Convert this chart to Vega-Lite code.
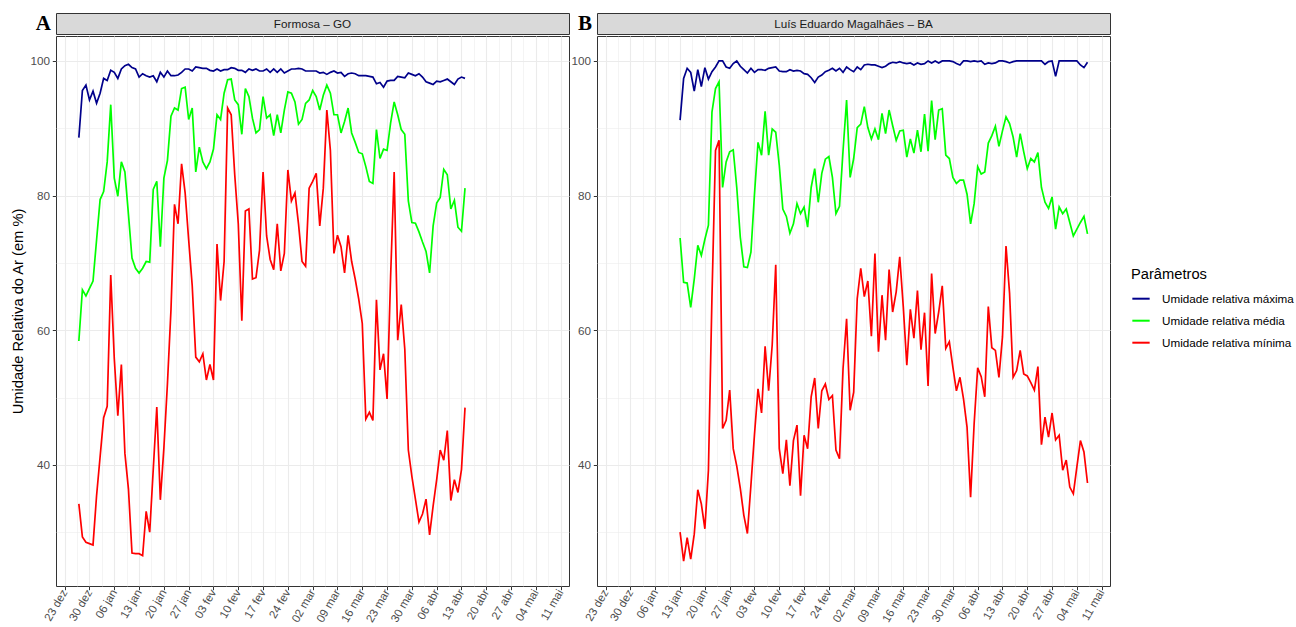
{
  "$schema": "https://vega.github.io/schema/vega-lite/v6.json",
  "padding": {"left": 10, "top": 12, "right": 5, "bottom": 0},
  "background": "white",
  "config": {
    "font": "Liberation Sans",
    "view": {"stroke": "#333333", "strokeWidth": 1}
  },
  "datasets": {
    "A": [
      {"t":"2019-12-27","mx":88.6,"md":58.4,"mn":34.2},
      {"t":"2019-12-28","mx":95.6,"md":66.0,"mn":29.3},
      {"t":"2019-12-29","mx":96.4,"md":65.1,"mn":28.5},
      {"t":"2019-12-30","mx":94.2,"md":66.2,"mn":28.3},
      {"t":"2019-12-31","mx":95.5,"md":67.3,"mn":28.1},
      {"t":"2020-01-01","mx":93.7,"md":73.4,"mn":35.4},
      {"t":"2020-01-02","mx":95.2,"md":79.4,"mn":41.2},
      {"t":"2020-01-03","mx":97.4,"md":80.6,"mn":47.0},
      {"t":"2020-01-04","mx":97.1,"md":85.0,"mn":48.7},
      {"t":"2020-01-05","mx":98.6,"md":93.5,"mn":68.2},
      {"t":"2020-01-06","mx":98.3,"md":82.6,"mn":55.8},
      {"t":"2020-01-07","mx":97.4,"md":79.9,"mn":47.3},
      {"t":"2020-01-08","mx":98.8,"md":85.0,"mn":54.9},
      {"t":"2020-01-09","mx":99.3,"md":83.5,"mn":41.7},
      {"t":"2020-01-10","mx":99.5,"md":77.2,"mn":36.4},
      {"t":"2020-01-11","mx":99.0,"md":70.7,"mn":26.9},
      {"t":"2020-01-12","mx":98.8,"md":69.2,"mn":26.8},
      {"t":"2020-01-13","mx":97.6,"md":68.5,"mn":26.8},
      {"t":"2020-01-14","mx":98.1,"md":69.2,"mn":26.5},
      {"t":"2020-01-15","mx":97.8,"md":70.2,"mn":33.1},
      {"t":"2020-01-16","mx":97.6,"md":70.1,"mn":30.0},
      {"t":"2020-01-17","mx":97.8,"md":80.9,"mn":39.3},
      {"t":"2020-01-18","mx":96.9,"md":82.1,"mn":48.6},
      {"t":"2020-01-19","mx":98.3,"md":72.4,"mn":34.8},
      {"t":"2020-01-20","mx":97.6,"md":82.6,"mn":42.5},
      {"t":"2020-01-21","mx":98.5,"md":85.2,"mn":52.0},
      {"t":"2020-01-22","mx":97.8,"md":91.8,"mn":63.0},
      {"t":"2020-01-23","mx":97.8,"md":93.0,"mn":78.7},
      {"t":"2020-01-24","mx":97.9,"md":92.7,"mn":75.8},
      {"t":"2020-01-25","mx":98.3,"md":95.9,"mn":84.7},
      {"t":"2020-01-26","mx":98.8,"md":96.1,"mn":80.4},
      {"t":"2020-01-27","mx":98.8,"md":91.3,"mn":73.4},
      {"t":"2020-01-28","mx":98.5,"md":93.0,"mn":66.6},
      {"t":"2020-01-29","mx":99.1,"md":83.5,"mn":56.0},
      {"t":"2020-01-30","mx":99.0,"md":87.2,"mn":55.3},
      {"t":"2020-01-31","mx":98.9,"md":85.0,"mn":56.5},
      {"t":"2020-02-01","mx":98.9,"md":84.0,"mn":52.6},
      {"t":"2020-02-02","mx":98.6,"md":85.0,"mn":54.9},
      {"t":"2020-02-03","mx":98.5,"md":86.9,"mn":52.6},
      {"t":"2020-02-04","mx":98.8,"md":92.0,"mn":72.8},
      {"t":"2020-02-05","mx":98.5,"md":91.3,"mn":64.4},
      {"t":"2020-02-06","mx":98.7,"md":95.2,"mn":70.2},
      {"t":"2020-02-07","mx":98.7,"md":97.2,"mn":93.0},
      {"t":"2020-02-08","mx":99.0,"md":97.3,"mn":92.0},
      {"t":"2020-02-09","mx":98.9,"md":94.2,"mn":83.1},
      {"t":"2020-02-10","mx":98.6,"md":93.5,"mn":75.8},
      {"t":"2020-02-11","mx":98.6,"md":89.1,"mn":61.4},
      {"t":"2020-02-12","mx":98.3,"md":95.9,"mn":77.7},
      {"t":"2020-02-13","mx":98.8,"md":94.7,"mn":78.0},
      {"t":"2020-02-14","mx":98.6,"md":91.5,"mn":67.6},
      {"t":"2020-02-15","mx":98.8,"md":89.3,"mn":67.8},
      {"t":"2020-02-16","mx":98.5,"md":89.8,"mn":71.9},
      {"t":"2020-02-17","mx":98.5,"md":94.7,"mn":83.5},
      {"t":"2020-02-18","mx":98.8,"md":91.5,"mn":74.0},
      {"t":"2020-02-19","mx":98.3,"md":92.0,"mn":70.5},
      {"t":"2020-02-20","mx":98.8,"md":88.9,"mn":69.0},
      {"t":"2020-02-21","mx":98.3,"md":92.0,"mn":75.8},
      {"t":"2020-02-22","mx":98.8,"md":89.3,"mn":68.8},
      {"t":"2020-02-23","mx":98.2,"md":92.7,"mn":71.4},
      {"t":"2020-02-24","mx":98.5,"md":95.4,"mn":83.8},
      {"t":"2020-02-25","mx":98.8,"md":95.2,"mn":79.2},
      {"t":"2020-02-26","mx":98.8,"md":93.9,"mn":80.4},
      {"t":"2020-02-27","mx":98.9,"md":90.6,"mn":75.8},
      {"t":"2020-02-28","mx":98.8,"md":91.3,"mn":70.2},
      {"t":"2020-02-29","mx":98.5,"md":93.7,"mn":69.5},
      {"t":"2020-03-01","mx":98.5,"md":94.2,"mn":81.1},
      {"t":"2020-03-02","mx":98.5,"md":95.6,"mn":82.1},
      {"t":"2020-03-03","mx":98.5,"md":94.7,"mn":83.3},
      {"t":"2020-03-04","mx":98.2,"md":92.7,"mn":75.5},
      {"t":"2020-03-05","mx":98.3,"md":94.9,"mn":81.1},
      {"t":"2020-03-06","mx":98.0,"md":96.4,"mn":92.7},
      {"t":"2020-03-07","mx":98.3,"md":95.2,"mn":86.7},
      {"t":"2020-03-08","mx":98.5,"md":92.0,"mn":71.4},
      {"t":"2020-03-09","mx":98.2,"md":92.0,"mn":74.1},
      {"t":"2020-03-10","mx":98.3,"md":89.3,"mn":72.4},
      {"t":"2020-03-11","mx":97.7,"md":91.0,"mn":68.5},
      {"t":"2020-03-12","mx":98.1,"md":93.0,"mn":74.1},
      {"t":"2020-03-13","mx":98.2,"md":89.3,"mn":70.2},
      {"t":"2020-03-14","mx":98.1,"md":87.9,"mn":67.6},
      {"t":"2020-03-15","mx":97.8,"md":86.4,"mn":64.6},
      {"t":"2020-03-16","mx":97.8,"md":86.2,"mn":61.0},
      {"t":"2020-03-17","mx":97.8,"md":84.3,"mn":46.8},
      {"t":"2020-03-18","mx":97.7,"md":82.1,"mn":47.8},
      {"t":"2020-03-19","mx":97.6,"md":81.8,"mn":46.6},
      {"t":"2020-03-20","mx":96.6,"md":89.8,"mn":64.5},
      {"t":"2020-03-21","mx":96.8,"md":85.5,"mn":54.1},
      {"t":"2020-03-22","mx":96.1,"md":86.9,"mn":56.5},
      {"t":"2020-03-23","mx":97.0,"md":86.7,"mn":49.8},
      {"t":"2020-03-24","mx":97.1,"md":90.8,"mn":68.0},
      {"t":"2020-03-25","mx":97.1,"md":93.9,"mn":83.5},
      {"t":"2020-03-26","mx":97.7,"md":92.0,"mn":58.5},
      {"t":"2020-03-27","mx":97.6,"md":89.8,"mn":63.8},
      {"t":"2020-03-28","mx":97.5,"md":89.1,"mn":57.2},
      {"t":"2020-03-29","mx":98.2,"md":79.2,"mn":42.2},
      {"t":"2020-03-30","mx":98.0,"md":76.0,"mn":38.3},
      {"t":"2020-03-31","mx":97.8,"md":75.9,"mn":34.9},
      {"t":"2020-04-01","mx":98.1,"md":74.6,"mn":31.5},
      {"t":"2020-04-02","mx":97.6,"md":73.1,"mn":32.7},
      {"t":"2020-04-03","mx":96.9,"md":71.7,"mn":34.9},
      {"t":"2020-04-04","mx":96.7,"md":68.5,"mn":29.6},
      {"t":"2020-04-05","mx":96.5,"md":75.5,"mn":33.9},
      {"t":"2020-04-06","mx":97.0,"md":78.9,"mn":37.8},
      {"t":"2020-04-07","mx":96.9,"md":79.7,"mn":42.2},
      {"t":"2020-04-08","mx":97.1,"md":83.9,"mn":40.7},
      {"t":"2020-04-09","mx":97.3,"md":83.1,"mn":45.1},
      {"t":"2020-04-10","mx":96.9,"md":78.0,"mn":34.7},
      {"t":"2020-04-11","mx":96.5,"md":79.3,"mn":37.8},
      {"t":"2020-04-12","mx":97.3,"md":75.3,"mn":35.9},
      {"t":"2020-04-13","mx":97.6,"md":74.7,"mn":39.3},
      {"t":"2020-04-14","mx":97.4,"md":81.1,"mn":48.5}
    ],
    "B": [
      {"t":"2020-01-13","mx":91.2,"md":73.7,"mn":30.0},
      {"t":"2020-01-14","mx":97.4,"md":67.1,"mn":25.7},
      {"t":"2020-01-15","mx":98.9,"md":67.0,"mn":29.2},
      {"t":"2020-01-16","mx":98.3,"md":63.4,"mn":26.0},
      {"t":"2020-01-17","mx":95.5,"md":67.6,"mn":29.7},
      {"t":"2020-01-18","mx":98.7,"md":72.6,"mn":36.3},
      {"t":"2020-01-19","mx":96.2,"md":71.1,"mn":34.2},
      {"t":"2020-01-20","mx":99.0,"md":73.5,"mn":30.5},
      {"t":"2020-01-21","mx":97.3,"md":75.6,"mn":39.2},
      {"t":"2020-01-22","mx":98.4,"md":92.4,"mn":65.0},
      {"t":"2020-01-23","mx":99.1,"md":95.9,"mn":86.7},
      {"t":"2020-01-24","mx":100,"md":96.9,"mn":88.2},
      {"t":"2020-01-25","mx":100,"md":81.2,"mn":45.4},
      {"t":"2020-01-26","mx":99.1,"md":85.0,"mn":46.6},
      {"t":"2020-01-27","mx":98.9,"md":86.5,"mn":51.1},
      {"t":"2020-01-28","mx":99.6,"md":86.8,"mn":42.4},
      {"t":"2020-01-29","mx":100,"md":81.2,"mn":39.8},
      {"t":"2020-01-30","mx":99.2,"md":73.8,"mn":36.5},
      {"t":"2020-01-31","mx":98.7,"md":69.4,"mn":32.5},
      {"t":"2020-02-01","mx":98.2,"md":69.3,"mn":29.8},
      {"t":"2020-02-02","mx":98.9,"md":71.6,"mn":37.0},
      {"t":"2020-02-03","mx":98.3,"md":80.2,"mn":44.5},
      {"t":"2020-02-04","mx":98.7,"md":87.9,"mn":51.3},
      {"t":"2020-02-05","mx":98.7,"md":86.0,"mn":47.7},
      {"t":"2020-02-06","mx":98.6,"md":92.5,"mn":57.6},
      {"t":"2020-02-07","mx":98.9,"md":86.0,"mn":51.0},
      {"t":"2020-02-08","mx":99.0,"md":89.9,"mn":57.8},
      {"t":"2020-02-09","mx":99.1,"md":89.4,"mn":69.7},
      {"t":"2020-02-10","mx":98.5,"md":84.5,"mn":42.4},
      {"t":"2020-02-11","mx":98.4,"md":78.0,"mn":38.7},
      {"t":"2020-02-12","mx":98.4,"md":76.9,"mn":43.7},
      {"t":"2020-02-13","mx":98.7,"md":74.4,"mn":36.9},
      {"t":"2020-02-14","mx":98.5,"md":75.8,"mn":43.6},
      {"t":"2020-02-15","mx":98.6,"md":78.8,"mn":45.9},
      {"t":"2020-02-16","mx":98.5,"md":77.3,"mn":35.4},
      {"t":"2020-02-17","mx":98.1,"md":78.3,"mn":44.4},
      {"t":"2020-02-18","mx":98.0,"md":75.3,"mn":42.4},
      {"t":"2020-02-19","mx":97.5,"md":81.2,"mn":50.1},
      {"t":"2020-02-20","mx":96.8,"md":84.0,"mn":52.9},
      {"t":"2020-02-21","mx":97.6,"md":79.0,"mn":45.4},
      {"t":"2020-02-22","mx":97.9,"md":83.3,"mn":51.0},
      {"t":"2020-02-23","mx":98.4,"md":85.4,"mn":52.0},
      {"t":"2020-02-24","mx":98.6,"md":85.8,"mn":49.7},
      {"t":"2020-02-25","mx":98.9,"md":82.7,"mn":50.3},
      {"t":"2020-02-26","mx":98.5,"md":77.3,"mn":42.2},
      {"t":"2020-02-27","mx":98.9,"md":78.4,"mn":40.9},
      {"t":"2020-02-28","mx":98.3,"md":86.7,"mn":54.3},
      {"t":"2020-02-29","mx":99.1,"md":94.2,"mn":61.7},
      {"t":"2020-03-01","mx":98.7,"md":82.7,"mn":48.1},
      {"t":"2020-03-02","mx":98.4,"md":85.5,"mn":50.8},
      {"t":"2020-03-03","mx":99.1,"md":90.1,"mn":64.7},
      {"t":"2020-03-04","mx":98.7,"md":90.6,"mn":69.2},
      {"t":"2020-03-05","mx":99.4,"md":93.2,"mn":65.0},
      {"t":"2020-03-06","mx":99.5,"md":90.1,"mn":67.3},
      {"t":"2020-03-07","mx":99.4,"md":88.4,"mn":59.1},
      {"t":"2020-03-08","mx":99.4,"md":89.9,"mn":71.4},
      {"t":"2020-03-09","mx":99.2,"md":88.3,"mn":56.8},
      {"t":"2020-03-10","mx":99.0,"md":92.2,"mn":65.2},
      {"t":"2020-03-11","mx":99.2,"md":89.2,"mn":58.5},
      {"t":"2020-03-12","mx":99.6,"md":92.7,"mn":69.0},
      {"t":"2020-03-13","mx":99.8,"md":90.4,"mn":62.7},
      {"t":"2020-03-14","mx":99.7,"md":88.2,"mn":65.7},
      {"t":"2020-03-15","mx":99.9,"md":89.6,"mn":70.9},
      {"t":"2020-03-16","mx":99.7,"md":89.7,"mn":63.5},
      {"t":"2020-03-17","mx":99.6,"md":85.7,"mn":54.8},
      {"t":"2020-03-18","mx":99.7,"md":88.4,"mn":63.1},
      {"t":"2020-03-19","mx":99.4,"md":86.3,"mn":58.8},
      {"t":"2020-03-20","mx":99.7,"md":89.7,"mn":65.9},
      {"t":"2020-03-21","mx":99.5,"md":86.5,"mn":57.1},
      {"t":"2020-03-22","mx":99.6,"md":92.1,"mn":62.6},
      {"t":"2020-03-23","mx":100,"md":86.6,"mn":51.7},
      {"t":"2020-03-24","mx":99.7,"md":94.1,"mn":68.4},
      {"t":"2020-03-25","mx":100,"md":88.3,"mn":59.5},
      {"t":"2020-03-26","mx":99.7,"md":92.7,"mn":62.7},
      {"t":"2020-03-27","mx":100,"md":92.9,"mn":66.6},
      {"t":"2020-03-28","mx":100,"md":86.0,"mn":57.3},
      {"t":"2020-03-29","mx":100,"md":85.5,"mn":58.3},
      {"t":"2020-03-30","mx":99.9,"md":82.7,"mn":54.5},
      {"t":"2020-03-31","mx":99.6,"md":81.8,"mn":51.0},
      {"t":"2020-04-01","mx":99.4,"md":82.3,"mn":53.0},
      {"t":"2020-04-02","mx":100,"md":82.3,"mn":49.8},
      {"t":"2020-04-03","mx":100,"md":80.2,"mn":45.6},
      {"t":"2020-04-04","mx":99.9,"md":75.8,"mn":35.2},
      {"t":"2020-04-05","mx":100,"md":78.8,"mn":46.1},
      {"t":"2020-04-06","mx":99.9,"md":84.3,"mn":54.4},
      {"t":"2020-04-07","mx":100,"md":83.2,"mn":53.1},
      {"t":"2020-04-08","mx":99.5,"md":83.5,"mn":50.1},
      {"t":"2020-04-09","mx":99.7,"md":87.8,"mn":63.5},
      {"t":"2020-04-10","mx":99.6,"md":88.9,"mn":57.4},
      {"t":"2020-04-11","mx":99.7,"md":90.3,"mn":57.0},
      {"t":"2020-04-12","mx":100,"md":87.3,"mn":53.0},
      {"t":"2020-04-13","mx":100,"md":89.6,"mn":59.0},
      {"t":"2020-04-14","mx":99.9,"md":91.7,"mn":72.5},
      {"t":"2020-04-15","mx":99.7,"md":90.7,"mn":65.5},
      {"t":"2020-04-16","mx":99.9,"md":88.7,"mn":53.0},
      {"t":"2020-04-17","mx":100,"md":85.7,"mn":54.0},
      {"t":"2020-04-18","mx":100,"md":89.2,"mn":57.0},
      {"t":"2020-04-19","mx":100,"md":86.5,"mn":53.5},
      {"t":"2020-04-20","mx":100,"md":84.0,"mn":53.2},
      {"t":"2020-04-21","mx":100,"md":85.5,"mn":52.2},
      {"t":"2020-04-22","mx":100,"md":85.0,"mn":51.1},
      {"t":"2020-04-23","mx":100,"md":86.4,"mn":54.6},
      {"t":"2020-04-24","mx":100,"md":81.2,"mn":43.0},
      {"t":"2020-04-25","mx":99.5,"md":79.0,"mn":47.1},
      {"t":"2020-04-26","mx":99.9,"md":78.1,"mn":44.1},
      {"t":"2020-04-27","mx":100,"md":79.8,"mn":47.7},
      {"t":"2020-04-28","mx":97.7,"md":75.0,"mn":43.7},
      {"t":"2020-04-29","mx":100,"md":78.3,"mn":44.4},
      {"t":"2020-04-30","mx":100,"md":77.3,"mn":39.2},
      {"t":"2020-05-01","mx":100,"md":78.0,"mn":40.7},
      {"t":"2020-05-02","mx":100,"md":76.0,"mn":36.7},
      {"t":"2020-05-03","mx":100,"md":74.0,"mn":35.7},
      {"t":"2020-05-04","mx":100,"md":75.0,"mn":39.7},
      {"t":"2020-05-05","mx":99.4,"md":76.0,"mn":43.6},
      {"t":"2020-05-06","mx":99.0,"md":76.9,"mn":41.9},
      {"t":"2020-05-07","mx":99.8,"md":74.3,"mn":37.3}
    ]
  },
  "spacing": 0,
  "resolve": {"scale": {"color": "shared"}},
  "hconcat": [
    {
      "spacing": 0,
      "vconcat": [
        {
          "width": 513, "height": 21,
          "data": {"values": [{"s": "Formosa – GO"}]},
          "view": {"fill": "#D9D9D9", "stroke": "#333333"},
          "title": {"text": "A", "orient": "left", "angle": 0, "align": "left", "baseline": "middle", "font": "Liberation Serif", "fontSize": 21, "fontWeight": "bold", "color": "black", "offset": 5},
          "mark": {"type": "text", "fontSize": 11.7, "color": "#1A1A1A", "font": "Liberation Sans"},
          "encoding": {"text": {"field": "s"}}
        },
        {
          "width": 513, "height": 550,
          "data": {"name": "A"},
          "transform": [{"fold": ["mx", "md", "mn"], "as": ["k", "v"]}],
          "mark": {"type": "line", "strokeWidth": 1.7, "clip": true},
          "encoding": {
            "x": {
              "field": "t", "type": "temporal",
              "scale": {"type": "utc", "domain": [1576847520000, 1589358240000]},
              "axis": {
                "values": [1577059200000,1577361600000,1577664000000,1577966400000,1578268800000,1578571200000,1578873600000,1579176000000,1579478400000,1579780800000,1580083200000,1580385600000,1580688000000,1580990400000,1581292800000,1581595200000,1581897600000,1582200000000,1582502400000,1582804800000,1583107200000,1583409600000,1583712000000,1584014400000,1584316800000,1584619200000,1584921600000,1585224000000,1585526400000,1585828800000,1586131200000,1586433600000,1586736000000,1587038400000,1587340800000,1587643200000,1587945600000,1588248000000,1588550400000,1588852800000,1589155200000],
                "title": null, "domain": false, "grid": true, "gridColor": "#EBEBEB",
                "gridWidth": {"condition": {"test": "(datum.value - 1577059200000) % 604800000 == 0", "value": 1.1}, "value": 0.55},
                "tickSize": 3.7, "tickWidth": 1,
                "tickColor": {"condition": {"test": "(datum.value - 1577059200000) % 604800000 == 0", "value": "#333333"}, "value": "rgba(0,0,0,0)"},
                "labelExpr": "(datum.value - 1577059200000) % 604800000 == 0 ? utcFormat(datum.value, '%d') + ' ' + ['jan','fev','mar','abr','mai','jun','jul','ago','set','out','nov','dez'][utcmonth(datum.value)] : ''",
                "labelAngle": -60, "labelAlign": "right", "labelBaseline": "middle", "labelPadding": 0.5,
                "labelFontSize": 11.5, "labelColor": "#4D4D4D", "labelOverlap": false, "labelFlush": false
              }
            },
            "y": {
              "field": "v", "type": "quantitative",
              "scale": {"domain": [22, 103.7], "nice": false, "zero": false},
              "axis": {
                "values": [30, 40, 50, 60, 70, 80, 90, 100],
                "title": "Umidade Relativa do Ar (em %)", "titleFontSize": 14.7, "titleFontWeight": "normal", "titleColor": "black", "titlePadding": 4,
                "domain": false, "grid": true, "gridColor": "#EBEBEB",
                "gridWidth": {"condition": {"test": "datum.value % 20 == 0", "value": 1.1}, "value": 0.55},
                "tickSize": 3.7, "tickWidth": 1,
                "tickColor": {"condition": {"test": "datum.value % 20 == 0", "value": "#333333"}, "value": "rgba(0,0,0,0)"},
                "labelExpr": "datum.value % 20 == 0 ? datum.label : ''",
                "labelFontSize": 11.7, "labelColor": "#4D4D4D", "labelPadding": 2.9
              }
            },
            "color": {
              "field": "k", "type": "nominal",
              "scale": {"domain": ["mx", "md", "mn"], "range": ["#00008B", "#00FF00", "#FF0000"]},
              "legend": {
                "title": "Parâmetros", "orient": "none", "legendX": 1075, "legendY": 254,
                "titleFontSize": 14.7, "titleFontWeight": "normal", "titleColor": "black", "titlePadding": 7,
                "labelFontSize": 11.7, "labelColor": "black", "labelOffset": 11,
                "symbolType": "stroke", "symbolStrokeWidth": 2, "symbolSize": 300, "rowPadding": 5,
                "labelExpr": "datum.label == 'mx' ? 'Umidade relativa máxima' : datum.label == 'md' ? 'Umidade relativa média' : 'Umidade relativa mínima'"
              }
            }
          }
        }
      ]
    },
    {
      "spacing": 0,
      "vconcat": [
        {
          "width": 513, "height": 21,
          "data": {"values": [{"s": "Luís Eduardo Magalhães – BA"}]},
          "view": {"fill": "#D9D9D9", "stroke": "#333333"},
          "title": {"text": "B", "orient": "left", "angle": 0, "align": "left", "baseline": "middle", "font": "Liberation Serif", "fontSize": 21, "fontWeight": "bold", "color": "black", "offset": 5},
          "mark": {"type": "text", "fontSize": 11.7, "color": "#1A1A1A", "font": "Liberation Sans"},
          "encoding": {"text": {"field": "s"}}
        },
        {
          "width": 513, "height": 550,
          "data": {"name": "B"},
          "transform": [{"fold": ["mx", "md", "mn"], "as": ["k", "v"]}],
          "mark": {"type": "line", "strokeWidth": 1.7, "clip": true},
          "encoding": {
            "x": {
              "field": "t", "type": "temporal",
              "scale": {"type": "utc", "domain": [1576847520000, 1589358240000]},
              "axis": {
                "values": [1577059200000,1577361600000,1577664000000,1577966400000,1578268800000,1578571200000,1578873600000,1579176000000,1579478400000,1579780800000,1580083200000,1580385600000,1580688000000,1580990400000,1581292800000,1581595200000,1581897600000,1582200000000,1582502400000,1582804800000,1583107200000,1583409600000,1583712000000,1584014400000,1584316800000,1584619200000,1584921600000,1585224000000,1585526400000,1585828800000,1586131200000,1586433600000,1586736000000,1587038400000,1587340800000,1587643200000,1587945600000,1588248000000,1588550400000,1588852800000,1589155200000],
                "title": null, "domain": false, "grid": true, "gridColor": "#EBEBEB",
                "gridWidth": {"condition": {"test": "(datum.value - 1577059200000) % 604800000 == 0", "value": 1.1}, "value": 0.55},
                "tickSize": 3.7, "tickWidth": 1,
                "tickColor": {"condition": {"test": "(datum.value - 1577059200000) % 604800000 == 0", "value": "#333333"}, "value": "rgba(0,0,0,0)"},
                "labelExpr": "(datum.value - 1577059200000) % 604800000 == 0 ? utcFormat(datum.value, '%d') + ' ' + ['jan','fev','mar','abr','mai','jun','jul','ago','set','out','nov','dez'][utcmonth(datum.value)] : ''",
                "labelAngle": -60, "labelAlign": "right", "labelBaseline": "middle", "labelPadding": 0.5,
                "labelFontSize": 11.5, "labelColor": "#4D4D4D", "labelOverlap": false, "labelFlush": false
              }
            },
            "y": {
              "field": "v", "type": "quantitative",
              "scale": {"domain": [22, 103.7], "nice": false, "zero": false},
              "axis": {
                "values": [30, 40, 50, 60, 70, 80, 90, 100],
                "title": null,
                "domain": false, "grid": true, "gridColor": "#EBEBEB",
                "gridWidth": {"condition": {"test": "datum.value % 20 == 0", "value": 1.1}, "value": 0.55},
                "tickSize": 3.7, "tickWidth": 1,
                "tickColor": {"condition": {"test": "datum.value % 20 == 0", "value": "#333333"}, "value": "rgba(0,0,0,0)"},
                "labelExpr": "datum.value % 20 == 0 ? datum.label : ''",
                "labelFontSize": 11.7, "labelColor": "#4D4D4D", "labelPadding": 2.9
              }
            },
            "color": {
              "field": "k", "type": "nominal",
              "scale": {"domain": ["mx", "md", "mn"], "range": ["#00008B", "#00FF00", "#FF0000"]}
            }
          }
        }
      ]
    }
  ]
}
